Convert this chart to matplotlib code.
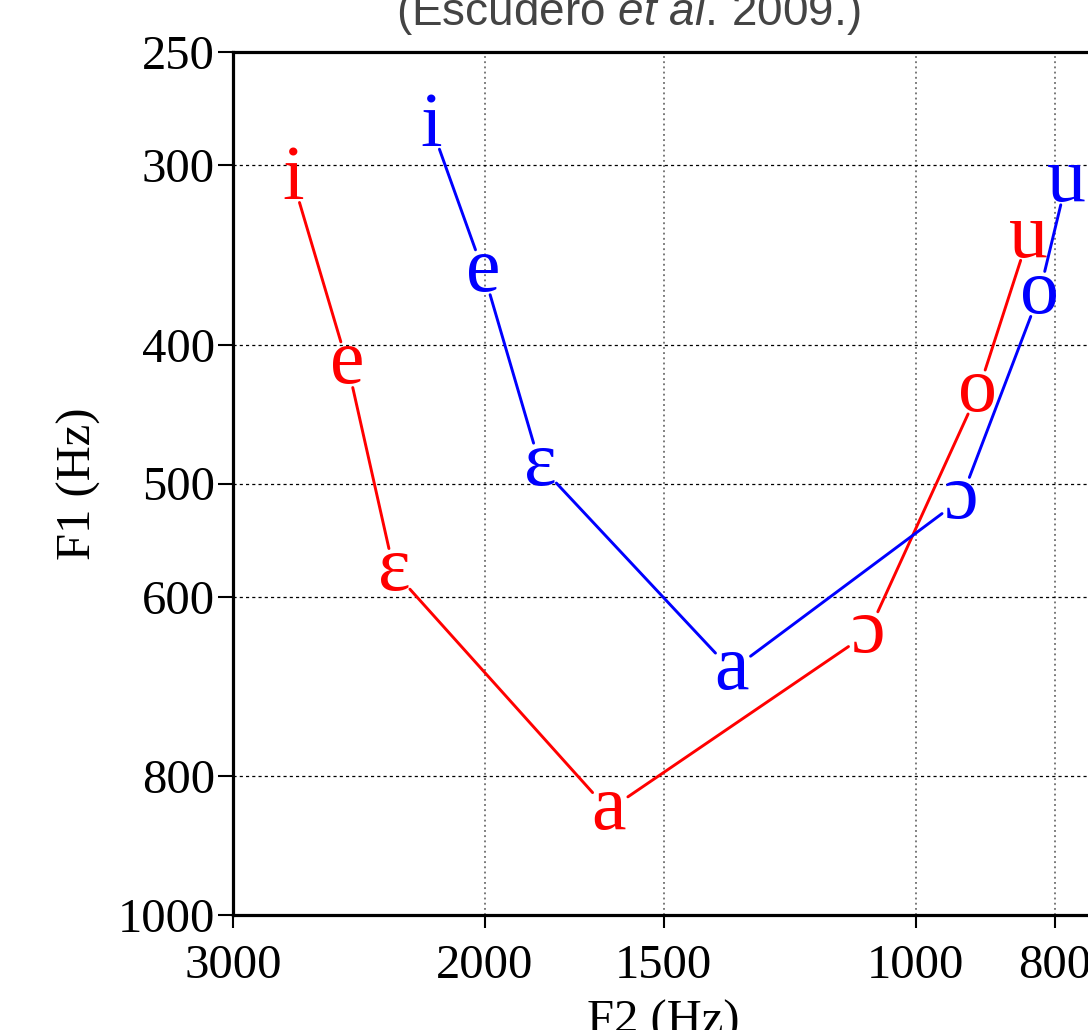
import matplotlib
matplotlib.use("Agg")
import matplotlib.pyplot as plt
from matplotlib.ticker import NullLocator, FixedLocator, FixedFormatter

# vowel labels, in order along the line
vowels = ["i", "e", "ɛ", "a", "ɔ", "o", "u"]

# red series
red_f2 = [2725, 2495, 2315, 1640, 1080, 905, 835]
red_f1 = [307, 413, 576, 845, 636, 432, 337]

# blue series
blue_f2 = [2180, 2005, 1830, 1345, 930, 820, 785]
blue_f1 = [282, 356, 486, 675, 513, 369, 308]

xticks = [3000, 2000, 1500, 1000, 800]
yticks = [250, 300, 400, 500, 600, 800, 1000]

serif = ["Liberation Serif", "DejaVu Serif"]

plt.rcParams["mathtext.fontset"] = "custom"
plt.rcParams["mathtext.rm"] = "Liberation Sans"
plt.rcParams["mathtext.it"] = "Liberation Sans:italic"

fig = plt.figure(figsize=(10.88, 10.30), dpi=100)
ax = fig.add_axes([233 / 1088, 115 / 1030, 860 / 1088, 863 / 1030])

ax.set_xscale("log")
ax.set_yscale("log")
ax.set_xlim(3000, 752)
ax.set_ylim(1000, 250)

# grid: dotted grey verticals, dashed black horizontals
for x in xticks[1:]:
    ax.axvline(x, color="#555555", lw=1.1, ls=(0, (1.2, 2.2)), zorder=0)
for y in yticks[1:-1]:
    ax.axhline(y, color="black", lw=0.9, ls=(0, (2.5, 2.5)), zorder=0)


def draw_series(f2, f1, col):
    # segments with gaps around the labels
    for k in range(len(f2) - 1):
        ax.annotate("", xy=(f2[k + 1], f1[k + 1]), xytext=(f2[k], f1[k]),
                    arrowprops=dict(arrowstyle="-", color=col, lw=2.1,
                                    shrinkA=17, shrinkB=17))
    for v, x, y in zip(vowels, f2, f1):
        ax.text(x, y, v, color=col, fontsize=56, family=serif,
                ha="center", va="center")


draw_series(red_f2, red_f1, "#ff0000")
draw_series(blue_f2, blue_f1, "#0000ff")

ax.xaxis.set_major_locator(FixedLocator(xticks))
ax.xaxis.set_major_formatter(FixedFormatter([str(t) for t in xticks]))
ax.xaxis.set_minor_locator(NullLocator())
ax.yaxis.set_major_locator(FixedLocator(yticks))
ax.yaxis.set_major_formatter(FixedFormatter([str(t) for t in yticks]))
ax.yaxis.set_minor_locator(NullLocator())

ax.tick_params(axis="x", direction="out", length=9, width=1.5, pad=12,
               labelsize=35)
ax.tick_params(axis="y", direction="out", length=11, width=1.5, pad=2,
               labelsize=35)
for lab in ax.get_xticklabels() + ax.get_yticklabels():
    lab.set_family(serif)

for side in ["top", "bottom", "left"]:
    ax.spines[side].set_linewidth(2.3)
ax.spines["right"].set_visible(False)

ax.set_xlabel("F2 (Hz)", fontsize=35, family=serif, labelpad=8)
ax.set_ylabel("F1 (Hz)", fontsize=35, family=serif, labelpad=12)

fig.text(628 / 1088, 1 - 25 / 1030, r"(Escudero $\mathit{et\ al.}\,$2009.)",
         fontsize=33, family=["Liberation Sans"], color="#444444",
         ha="center", va="baseline")

fig.savefig("out.png", dpi=100)
